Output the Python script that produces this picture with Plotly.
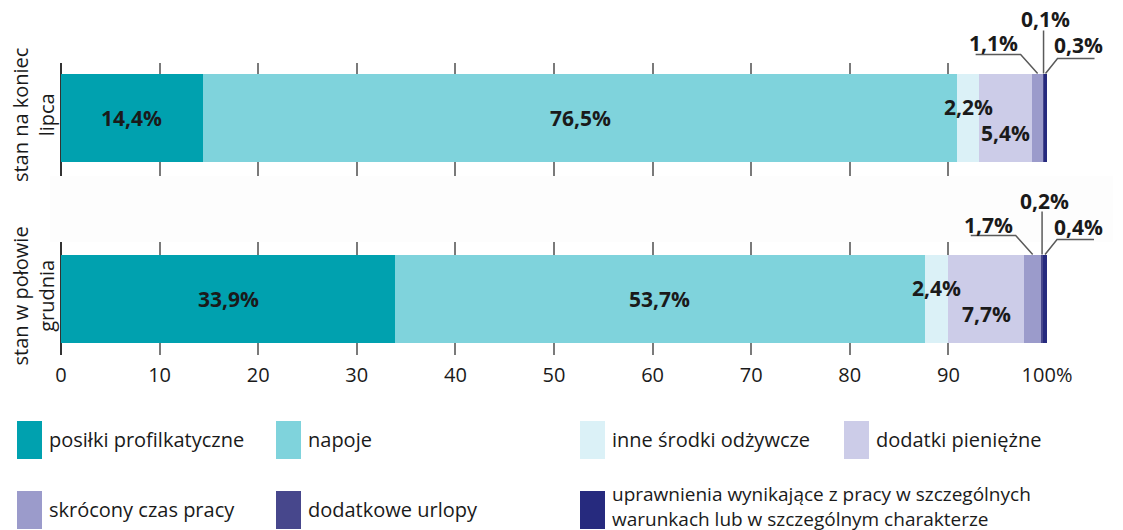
import plotly.graph_objects as go

# ---- data ----
categories = ["stan w połowie<br>grudnia", "stan na koniec<br>lipca"]
series_names = [
    "posiłki profilkatyczne",
    "napoje",
    "inne środki odżywcze",
    "dodatki pieniężne",
    "skrócony czas pracy",
    "dodatkowe urlopy",
    "uprawnienia wynikające z pracy w szczególnych<br>warunkach lub w szczególnym charakterze",
]
values_grudnia = [33.9, 53.7, 2.4, 7.7, 1.7, 0.2, 0.4]
values_lipca = [14.4, 76.5, 2.2, 5.4, 1.1, 0.1, 0.3]
colors = ["#00A1AF", "#7FD3DC", "#DBF1F7", "#CCCCE8", "#9B9BCB", "#47478C", "#262A7E"]
x_tickvals = [0, 10, 20, 30, 40, 50, 60, 70, 80, 90, 100]
x_ticktext = ["0", "10", "20", "30", "40", "50", "60", "70", "80", "90", "100%"]

# ---- layout constants ----
W, H = 1123, 530
ML, MR, MT, MB = 61, 76, 63, 175
PW, PH = W - ML - MR, H - MT - MB
YR = [-0.31, 1.303]
BAR_W = 0.49
PX_X = PW / 100.0
PX_Y = PH / (YR[1] - YR[0])

FONT = "Open Sans"
TXT = "#1a1a1a"


def fmt(v):
    return f"{v:.1f}".replace(".", ",") + "%"


def d2p(x, y):
    """data -> paper coordinates"""
    return x / 100.0, (y - YR[0]) / (YR[1] - YR[0])


fig = go.Figure()
rows = [values_grudnia, values_lipca]
for i, name in enumerate(series_names):
    fig.add_trace(go.Bar(
        y=categories, x=[rows[0][i], rows[1][i]], orientation="h",
        name=name, marker=dict(color=colors[i], line=dict(width=0)),
        width=BAR_W, showlegend=False, hoverinfo="x+name",
    ))

shapes = []
annotations = []

# gap panel between bars
shapes.append(dict(type="rect", xref="paper", yref="paper",
                   x0=-11 / PW, x1=1052 / PW, y0=0.387, y1=0.613,
                   fillcolor="#fdfdfd", line=dict(width=0), layer="above"))

LINE = dict(color="#5a5a5a", width=1.5)


def dxp(p):
    return p / PX_X


def dyp(p):
    return -p / PX_Y  # pixel down -> data down


def ann(x, y, text, f):
    px_, py_ = d2p(x, y)
    annotations.append(dict(xref="paper", yref="paper", x=px_, y=py_, text=text,
                            xanchor="center", yanchor="middle",
                            showarrow=False, font=f))


def poly(points):
    pts = [d2p(x, y) for x, y in points]
    path = "M " + " L ".join(f"{a} {b}" for a, b in pts)
    shapes.append(dict(type="path", xref="paper", yref="paper", path=path,
                       line=LINE, layer="above"))


for yi, vals in enumerate(rows):
    cum = 0.0
    top = yi + BAR_W / 2
    for i, v in enumerate(vals):
        mid = cum + v / 2
        cum += v
        lab = "<b>" + fmt(v) + "</b>"
        f = dict(family=FONT, size=21, color=TXT)
        if i in (0, 1):
            ann(mid, yi, lab, f)
        elif i == 2:
            ann(mid, yi + dyp(-11), lab, f)
        elif i == 3:
            ann(mid, yi + dyp(15), lab, f)
        elif i == 4:
            ann(mid + dxp(-44), top + dyp(-30), lab, f)
            poly([(mid + dxp(-62), top + dyp(-19)), (mid + dxp(-17), top + dyp(-19)), (mid, top)])
        elif i == 5:
            ann(mid + dxp(2), top + dyp(-54), lab, f)
            poly([(mid, top + dyp(-43)), (mid, top)])
        elif i == 6:
            ann(mid + dxp(33), top + dyp(-28), lab, f)
            poly([(mid + dxp(49), top + dyp(-15)), (mid + dxp(12), top + dyp(-15)), (mid, top)])

# ---- manual legend ----
def px2paper(px, py):
    return (px - ML) / PW, (H - MB - py) / PH


col_x = [17, 276, 580, 844]
row_y = [421, 491]
SW_W, SW_H = 25, 38
for i, name in enumerate(series_names):
    r, c = divmod(i, 4)
    sx, sy = col_x[c], row_y[r]
    x0, y1 = px2paper(sx, sy)
    x1, y0 = px2paper(sx + SW_W, sy + SW_H)
    shapes.append(dict(type="rect", xref="paper", yref="paper", x0=x0, x1=x1, y0=y0, y1=y1,
                       fillcolor=colors[i], line=dict(width=0), layer="above"))
    two = "<br>" in name
    tx, ty = px2paper(sx + SW_W + 5, sy + (15 if two else 18))
    annotations.append(dict(xref="paper", yref="paper", x=tx, y=ty, text=name, showarrow=False,
                            xanchor="left", yanchor="middle", align="left",
                            font=dict(family=FONT, size=19 if two else 20, color=TXT)))

fig.update_layout(
    width=W, height=H,
    margin=dict(l=ML, r=MR, t=MT, b=MB, autoexpand=False),
    paper_bgcolor="white", plot_bgcolor="white",
    barmode="stack", bargap=0,
    shapes=shapes, annotations=annotations,
    font=dict(family=FONT, color=TXT),
    xaxis=dict(range=[0, 100], tickvals=x_tickvals, ticktext=x_ticktext,
               showgrid=True, gridcolor="#7a7a7a", gridwidth=1.5,
               zeroline=True, zerolinecolor="#333333", zerolinewidth=1.5,
               showline=False, ticks="", ticklabelstandoff=6, automargin=False,
               tickfont=dict(family=FONT, size=20, color=TXT), fixedrange=True),
    yaxis=dict(categoryorder="array", categoryarray=categories, range=YR,
               showgrid=False, zeroline=False, showline=False, ticks="",
               tickangle=-90, ticklabelstandoff=2, automargin=False,
               tickfont=dict(family=FONT, size=20, color=TXT), fixedrange=True),
)

fig.write_html("out.html", config={"displayModeBar": False},
               post_script="document.body.style.margin='0';")
